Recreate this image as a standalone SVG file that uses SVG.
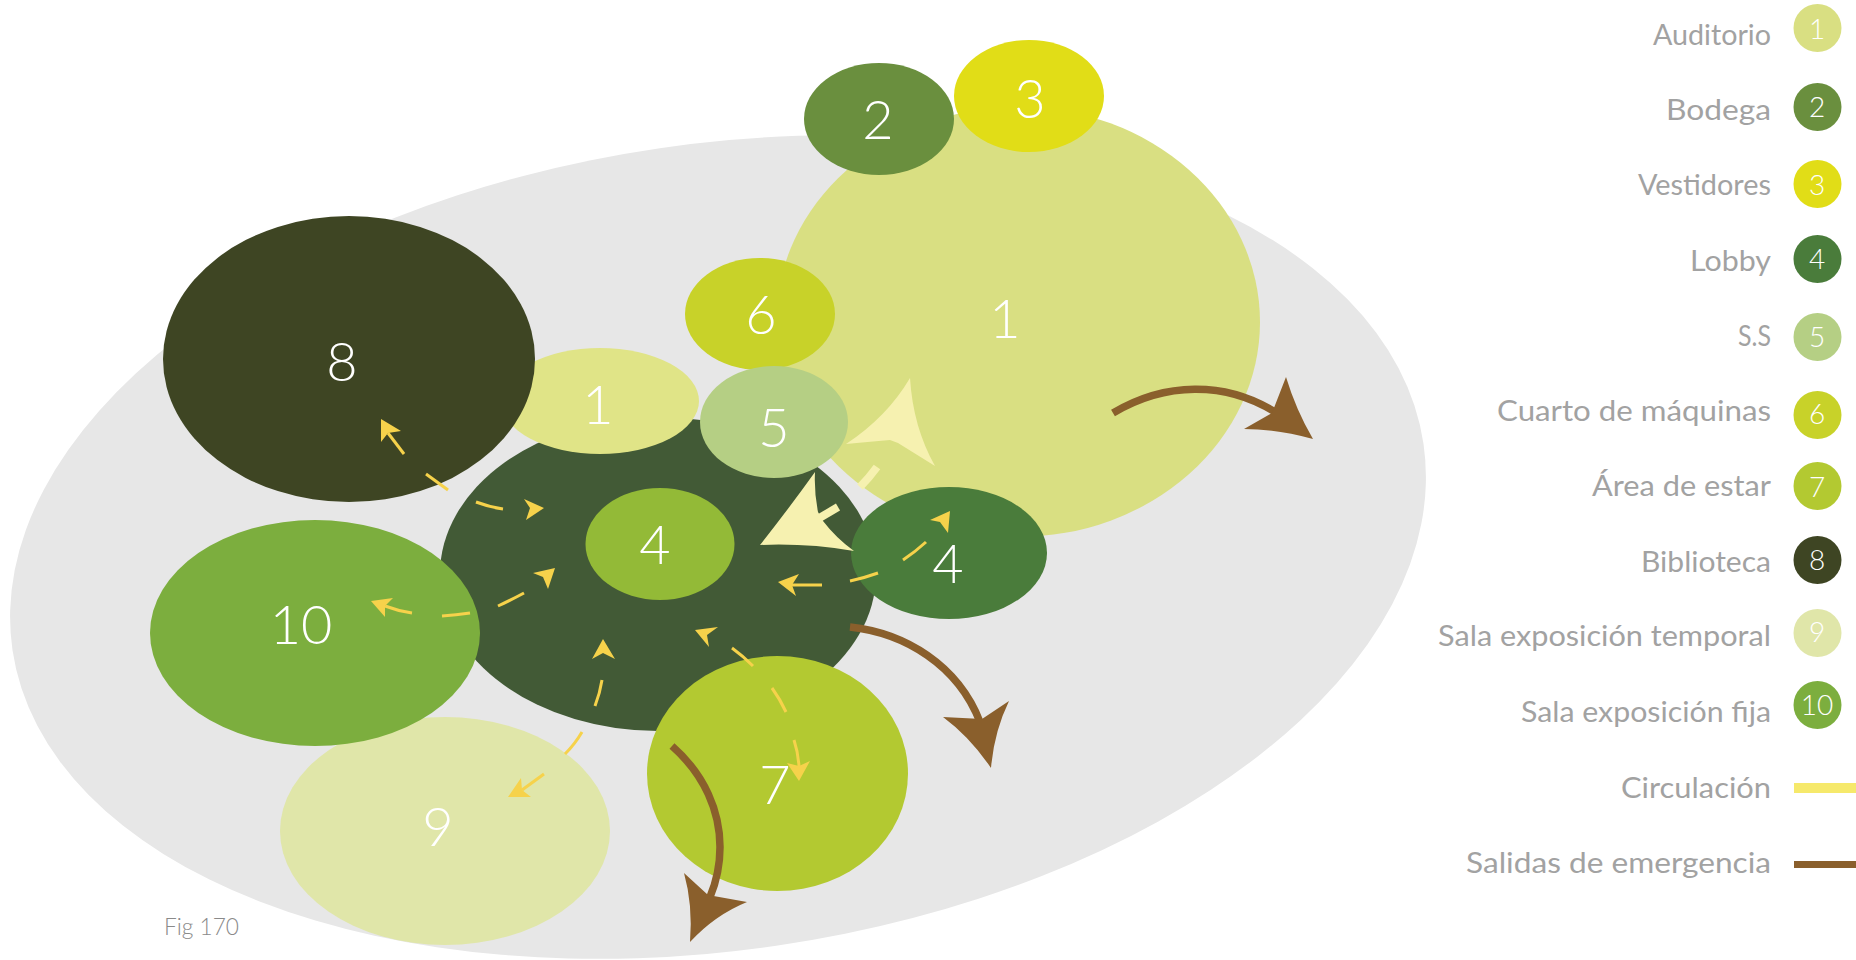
<svg xmlns="http://www.w3.org/2000/svg" width="1856" height="960" viewBox="0 0 1856 960">
<style>
text{font-family:"Lato","Liberation Sans",sans-serif;font-weight:300}
.n{fill:#fff;font-size:54px;text-anchor:middle}
.d{fill:#fff;font-size:28px;text-anchor:middle}
.l{fill:#a2a2a2;font-size:28px;text-anchor:end;font-weight:400}
.y{fill:none;stroke:#f6d24b;stroke-width:3}
.yh{fill:#f6d24b}
.b{fill:none;stroke:#8a5f2c;stroke-width:7.500}
.bh{fill:#8a5f2c}
.p{fill:none;stroke:#f6f1b0;stroke-width:8}
.ph{fill:#f6f1b0}
</style>
<rect width="1856" height="960" fill="#fff"/>
<ellipse id="site" cx="718" cy="547" rx="713" ry="403" transform="rotate(-8.3 718 547)" fill="#e7e7e7"/>
<g id="node-1-big"><ellipse cx="1018" cy="322" rx="242" ry="215" fill="#d9df82"/><text class="n" x="1005" y="338">1</text></g>
<g id="node-2"><ellipse cx="879" cy="119" rx="75" ry="56" fill="#6a8f3e"/><text class="n" x="878" y="139">2</text></g>
<g id="node-3"><ellipse cx="1029" cy="96" rx="75" ry="56" fill="#e1dd17"/><text class="n" x="1030" y="118">3</text></g>
<g id="node-6"><ellipse cx="760" cy="314" rx="75" ry="56" fill="#c8d229"/><text class="n" x="761" y="334">6</text></g>
<g id="node-4-large"><ellipse cx="658" cy="574" rx="218" ry="157" fill="#425a36"/></g>
<g id="node-1-small"><ellipse cx="600" cy="401" rx="99" ry="53" fill="#e0e487"/><text class="n" x="598" y="424">1</text></g>
<g id="node-5"><ellipse cx="774" cy="422" rx="74" ry="56" fill="#b5cf84"/><text class="n" x="774" y="447">5</text></g>
<g id="node-4-inner"><ellipse cx="660" cy="544" rx="74.500" ry="56" fill="#93ba37"/><text class="n" x="655" y="564">4</text></g>
<g id="node-4-right"><ellipse cx="949" cy="553" rx="98" ry="66" fill="#4a7c3b"/><text class="n" x="948" y="583">4</text></g>
<g id="node-8"><ellipse cx="349" cy="359" rx="186" ry="143" fill="#3e4523"/><text class="n" x="342" y="381">8</text></g>
<g id="node-9"><ellipse cx="445" cy="831" rx="165" ry="114" fill="#e0e6a9"/><text class="n" x="438" y="846">9</text></g>
<g id="node-10"><ellipse cx="315" cy="633" rx="165" ry="113" fill="#7cae3e"/><text class="n" x="301" y="644">10</text></g>
<g id="node-7"><ellipse cx="777.500" cy="773.500" rx="130.500" ry="117.500" fill="#b3c931"/><text class="n" x="775" y="804">7</text></g>
<g id="connectors">
<path class="p" d="M877,467Q869,478 860,487"/>
<path class="ph" d="M846,444Q887,417 910,378Q913,427 935,466L898,443L890,440Q867,442 846,444Z"/>
<path class="p" d="M838,507L816,520"/>
<path class="ph" d="M815,472Q814,492 818,512L823,521Q836,538 854,551Q807,543 760,545Q790,507 815,472Z"/>
<path class="y" d="M926,542Q915,552 903,560"/>
<path class="yh" d="M950,511L948,533L940,522L930,520Z"/>
<path class="y" d="M878,573Q864,578 850,581"/>
<path class="y" d="M822,585L792,585"/>
<path class="yh" d="M778,582L799,574L792,585L796,596Z"/>
<path class="y" d="M404,454L388,433"/>
<path class="yh" d="M381,419L401,431L388,433L381,442Z"/>
<path class="y" d="M426,474Q437,482 448,490"/>
<path class="y" d="M476,502Q489,507 503,509"/>
<path class="yh" d="M544,508L524,499L530,508L526,520Z"/>
<path class="yh" d="M555,568L533,573L543,577L548,589Z"/>
<path class="y" d="M524,593Q511,600 498,606"/>
<path class="y" d="M470,613Q456,615 442,616"/>
<path class="y" d="M412,613Q398,611 385,606"/>
<path class="yh" d="M371,601L393,598L385,606L385,617Z"/>
<path class="yh" d="M603,639L592,659L603,653L615,659Z"/>
<path class="y" d="M602,680Q600,693 595,706"/>
<path class="y" d="M582,732Q575,744 565,754"/>
<path class="y" d="M544,774L522,790"/>
<path class="yh" d="M508,797L521,778L522,790L531,797Z"/>
<path class="yh" d="M695,630L718,627L707,635L709,647Z"/>
<path class="y" d="M732,648Q743,656 753,666"/>
<path class="y" d="M772,688Q780,699 786,712"/>
<path class="y" d="M794,740Q798,752 799,766"/>
<path class="yh" d="M799,781L787,763L799,766L810,761Z"/>
<path class="b" d="M850,627C905,633 958,665 980,722"/>
<path class="bh" d="M991,768Q970,737 943,717L982,719L1009,701Q994,732 991,768Z"/>
<path class="b" d="M672,746C705,775 720,812 720,847Q720,873 710,897"/>
<path class="bh" d="M690,942Q693,905 684,873L708,895L747,902Q715,915 690,942Z"/>
<path class="b" d="M1113,413C1165,382 1225,381 1275,412"/>
<path class="bh" d="M1313,439Q1277,429 1244,429L1272,413L1286,377Q1296,410 1313,439Z"/>
</g>
<g id="legend">
<g id="legend-1"><circle cx="1817.500" cy="28" r="24" fill="#d9df82"/><text class="d" x="1817" y="39">1</text><text class="l" x="1771" y="45" textLength="118" lengthAdjust="spacingAndGlyphs">Auditorio</text></g>
<g id="legend-2"><circle cx="1817.500" cy="107" r="24" fill="#6a8f3e"/><text class="d" x="1817" y="117">2</text><text class="l" x="1771" y="120" textLength="105" lengthAdjust="spacingAndGlyphs">Bodega</text></g>
<g id="legend-3"><circle cx="1817.500" cy="184" r="24" fill="#e1dd17"/><text class="d" x="1817" y="195">3</text><text class="l" x="1771" y="195" textLength="133" lengthAdjust="spacingAndGlyphs">Vestidores</text></g>
<g id="legend-4"><circle cx="1817.500" cy="259" r="24" fill="#4a7c3b"/><text class="d" x="1817" y="269">4</text><text class="l" x="1771" y="271" textLength="81" lengthAdjust="spacingAndGlyphs">Lobby</text></g>
<g id="legend-5"><circle cx="1817.500" cy="337" r="24" fill="#b5cf84"/><text class="d" x="1817" y="347">5</text><text class="l" x="1771" y="346" textLength="33" lengthAdjust="spacingAndGlyphs">S.S</text></g>
<g id="legend-6"><circle cx="1817.500" cy="415" r="24" fill="#c8d229"/><text class="d" x="1817" y="424">6</text><text class="l" x="1771" y="421" textLength="274" lengthAdjust="spacingAndGlyphs">Cuarto de máquinas</text></g>
<g id="legend-7"><circle cx="1817.500" cy="486" r="24" fill="#b3c931"/><text class="d" x="1817" y="497">7</text><text class="l" x="1771" y="496" textLength="179" lengthAdjust="spacingAndGlyphs">Área de estar</text></g>
<g id="legend-8"><circle cx="1817.500" cy="560" r="24" fill="#3e4523"/><text class="d" x="1817" y="570">8</text><text class="l" x="1771" y="572" textLength="130" lengthAdjust="spacingAndGlyphs">Biblioteca</text></g>
<g id="legend-9"><circle cx="1817.500" cy="633" r="24" fill="#e0e6a9"/><text class="d" x="1817" y="642">9</text><text class="l" x="1771" y="646" textLength="333" lengthAdjust="spacingAndGlyphs">Sala exposición temporal</text></g>
<g id="legend-10"><circle cx="1817.500" cy="705" r="24" fill="#7cae3e"/><text class="d" x="1817" y="715">10</text><text class="l" x="1771" y="722" textLength="250" lengthAdjust="spacingAndGlyphs">Sala exposición fija</text></g>
<g id="legend-circ"><rect x="1794" y="783" width="62" height="10" fill="#f6e96b"/><text class="l" x="1771" y="798" textLength="150" lengthAdjust="spacingAndGlyphs">Circulación</text></g>
<g id="legend-sal"><rect x="1794" y="861" width="62" height="7" fill="#8a5f2c"/><text class="l" x="1771" y="873" textLength="305" lengthAdjust="spacingAndGlyphs">Salidas de emergencia</text></g>
</g>
<text id="fig" x="164" y="935" font-size="23" fill="#8a8a8a" textLength="75" lengthAdjust="spacingAndGlyphs">Fig 170</text>
</svg>
